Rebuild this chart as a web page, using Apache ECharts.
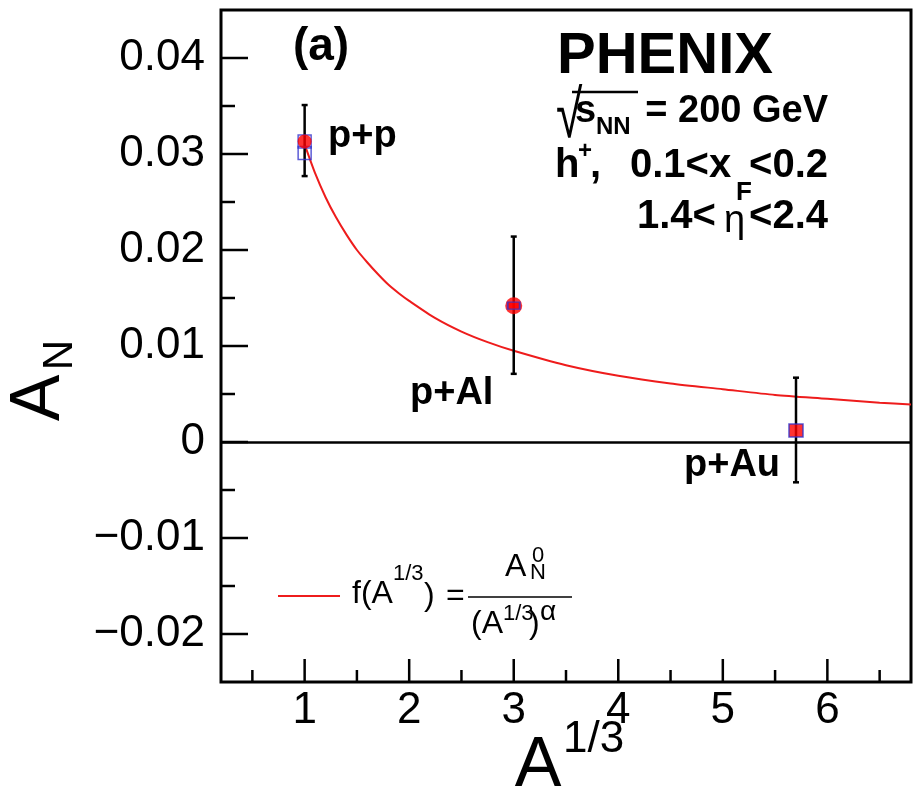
<!DOCTYPE html>
<html><head><meta charset="utf-8">
<script src="https://cdn.jsdelivr.net/npm/echarts@6/dist/echarts.min.js"></script>
<style>html,body{margin:0;padding:0;background:#fff}#c{width:914px;height:799px}</style>
</head><body><div id="c"></div>
<script>
// ---- data ----
const categories = ['p+p', 'p+Al', 'p+Au'];
const xValues = [1, 3, 5.7];
const anValues = [0.0313, 0.0142, 0.0012];
const errLow = [0.0277, 0.0071, -0.0042];
const errHigh = [0.0351, 0.0214, 0.0067];
const ppOpenSquareY = [0.0301];
const fitX = [1, 1.1, 1.2, 1.3, 1.4, 1.5, 1.6, 1.7, 1.8, 1.9, 2, 2.25, 2.5, 2.75, 3, 3.5, 4, 4.5, 5, 5.5, 6, 6.5, 6.8];
const fitY = [0.0310, 0.0280, 0.0255, 0.0234, 0.0216, 0.0200, 0.0187, 0.0175, 0.0164, 0.0155, 0.0147, 0.0129, 0.0115, 0.0104, 0.0095, 0.0080, 0.0069, 0.0061, 0.0055, 0.0049, 0.0045, 0.0041, 0.0039];
const xMajorTicks = [1, 2, 3, 4, 5, 6];
const xMinorTicks = [0.5, 1.5, 2.5, 3.5, 4.5, 5.5, 6.5];
const xTickLabels = ['1', '2', '3', '4', '5', '6'];
const yMajorTicks = [-0.02, -0.01, 0, 0.01, 0.02, 0.03, 0.04];
const yMinorTicks = [-0.015, -0.005, 0.005, 0.015, 0.025, 0.035];
const yTickLabels = ['\u22120.02', '\u22120.01', '0', '0.01', '0.02', '0.03', '0.04'];
const X_MIN = 0.2, X_MAX = 6.8, Y_MIN = -0.025, Y_MAX = 0.045;

const FONT = '"Liberation Sans", Arial, Helvetica, sans-serif';
const RED = '#ff0000', BLUE = '#3333cc', CURVE = '#ee1c1c';

function findLabel(v, ticks, labels) {
  for (let i = 0; i < ticks.length; i++) if (Math.abs(v - ticks[i]) < 1e-9) return labels[i];
  return '';
}
function tickSeries(vals, dir, len) {
  return {
    type: 'custom', silent: true, clip: false, z: 6,
    data: vals.map(v => dir === 'x' ? [v, Y_MIN] : [X_MIN, v]),
    renderItem: (params, api) => {
      const p = api.coord([api.value(0), api.value(1)]);
      const shape = dir === 'x'
        ? { x1: p[0], y1: p[1], x2: p[0], y2: p[1] - len }
        : { x1: p[0], y1: p[1], x2: p[0] + len, y2: p[1] };
      return { type: 'line', shape, style: { stroke: '#000', lineWidth: 2.5 } };
    }
  };
}
function T(text, x, y, size, opts) {
  opts = opts || {};
  return {
    type: 'text', x: x, y: y, rotation: opts.rot || 0, z: 100,
    scaleX: opts.sx || 1, scaleY: opts.sy || 1,
    style: {
      text: text, fill: '#000',
      font: (opts.bold ? 'bold ' : '') + size + 'px ' + FONT,
      align: opts.align || 'left', textAlign: opts.align || 'left',
      verticalAlign: 'middle', textVerticalAlign: 'middle'
    }
  };
}

const chart = echarts.init(document.getElementById('c'), null, { renderer: 'canvas' });
const option = {
  animation: false,
  backgroundColor: '#fff',
  grid: { left: 221, right: 2, top: 10, bottom: 117, show: true, borderColor: '#000', borderWidth: 3, backgroundColor: 'transparent' },
  xAxis: {
    type: 'value', min: X_MIN, max: X_MAX, interval: 0.1,
    axisLine: { show: false }, axisTick: { show: false }, splitLine: { show: false },
    axisLabel: {
      margin: 7, color: '#000', fontSize: 44, fontFamily: FONT,
      formatter: v => findLabel(v, xMajorTicks, xTickLabels)
    }
  },
  yAxis: {
    type: 'value', min: Y_MIN, max: Y_MAX, interval: 0.005,
    axisLine: { show: false }, axisTick: { show: false }, splitLine: { show: false },
    axisLabel: {
      margin: 16, color: '#000', fontSize: 44, fontFamily: FONT,
      formatter: v => findLabel(v, yMajorTicks, yTickLabels)
    }
  },
  series: [
    tickSeries(xMajorTicks, 'x', 23),
    tickSeries(xMinorTicks, 'x', 12),
    tickSeries(yMajorTicks, 'y', 27),
    tickSeries(yMinorTicks, 'y', 14),
    {
      type: 'line', name: 'fit', data: fitX.map((x, i) => [x, fitY[i]]),
      smooth: 0.25, showSymbol: false, symbol: 'none', z: 3,
      lineStyle: { color: CURVE, width: 2 }, silent: true,
      markLine: {
        silent: true, symbol: ['none', 'none'], label: { show: false },
        lineStyle: { color: '#000', width: 2.5, type: 'solid' },
        data: [{ yAxis: 0 }]
      }
    },
    {
      type: 'custom', name: 'errors', z: 4, clip: false,
      data: xValues.map((x, i) => [x, errLow[i], errHigh[i]]),
      encode: { x: 0, y: [1, 2] },
      renderItem: (params, api) => {
        const lo = api.coord([api.value(0), api.value(1)]);
        const hi = api.coord([api.value(0), api.value(2)]);
        const w = 3, st = { stroke: '#000', lineWidth: 2.5 };
        return { type: 'group', children: [
          { type: 'line', shape: { x1: lo[0], y1: lo[1], x2: hi[0], y2: hi[1] }, style: st },
          { type: 'line', shape: { x1: lo[0] - w, y1: lo[1], x2: lo[0] + w, y2: lo[1] }, style: st },
          { type: 'line', shape: { x1: hi[0] - w, y1: hi[1], x2: hi[0] + w, y2: hi[1] }, style: st }
        ]};
      }
    },
    {
      type: 'scatter', name: 'open', z: 5, symbol: 'rect', symbolSize: 13,
      itemStyle: { color: 'rgba(0,0,0,0)', borderColor: BLUE, borderWidth: 1.5 },
      data: [[xValues[0], ppOpenSquareY[0]], [xValues[0], anValues[0]]]
    },
    {
      type: 'scatter', name: 'circles', z: 6, symbol: 'circle',
      itemStyle: { color: RED },
      data: [
        { value: [xValues[0], anValues[0]], symbolSize: 14 },
        { value: [xValues[1], anValues[1]], symbolSize: 17 }
      ]
    },
    {
      type: 'scatter', name: 'squares', z: 7, symbol: 'rect',
      itemStyle: { color: RED, borderColor: BLUE, borderWidth: 1.5 },
      data: [
        { value: [xValues[1], anValues[1]], symbolSize: [12, 7] },
        { value: [xValues[2], anValues[2]], symbolSize: [14, 13] }
      ]
    }
  ],
  graphic: [
    // axis titles
    T('A', 40, 398, 70, { rot: Math.PI / 2, align: 'center' }),
    T('N', 60, 355, 42, { rot: Math.PI / 2, align: 'center' }),
    T('A', 538, 767, 70, { align: 'center' }),
    T('1/3', 563, 740, 44),
    // panel label and header
    T('(a)', 321, 47, 46, { bold: true, align: 'center' }),
    T('PHENIX', 557, 57, 58, { bold: true }),
    T('\u221a', 556, 118, 48, { sy: 1.4 }),
    { type: 'line', z: 100, shape: { x1: 572, y1: 92, x2: 638, y2: 92 }, style: { stroke: '#000', lineWidth: 2.5 } },
    T('s', 575, 112, 38, { bold: true }),
    T('NN', 596, 127, 24, { bold: true }),
    T('= 200 GeV', 828, 112, 38, { bold: true, align: 'right' }),
    T('h', 555, 166, 40, { bold: true }),
    T('+', 578, 151, 24, { bold: true }),
    T(',', 590, 166, 40, { bold: true }),
    T('0.1<x', 630, 166, 40, { bold: true }),
    T('F', 736, 193, 26, { bold: true }),
    T('<0.2', 828, 166, 40, { bold: true, align: 'right' }),
    T('1.4<', 637, 217, 40, { bold: true }),
    T('\u03b7', 724, 222, 38),
    T('<2.4', 828, 217, 40, { bold: true, align: 'right' }),
    // point labels
    T(categories[0], 328, 137, 38, { bold: true }),
    T(categories[1], 410, 394, 38, { bold: true }),
    T(categories[2], 684, 466, 38, { bold: true }),
    // legend
    { type: 'line', z: 100, shape: { x1: 278, y1: 596, x2: 340, y2: 596 }, style: { stroke: CURVE, lineWidth: 2 } },
    T('f(A', 352, 594, 32),
    T('1/3', 393, 574, 22),
    T(')', 424, 596, 32),
    T('=', 446, 596, 32),
    T('A', 505, 567, 32),
    T('0', 532, 556, 22),
    T('N', 530, 573, 22),
    { type: 'line', z: 100, shape: { x1: 468, y1: 597, x2: 572, y2: 597 }, style: { stroke: '#000', lineWidth: 1.5 } },
    T('(A', 471, 624, 32),
    T('1/3', 503, 614, 22),
    T(')', 529, 624, 32),
    T('\u03b1', 540, 612, 28)
  ]
};
chart.setOption(option);
</script>
</body></html>
